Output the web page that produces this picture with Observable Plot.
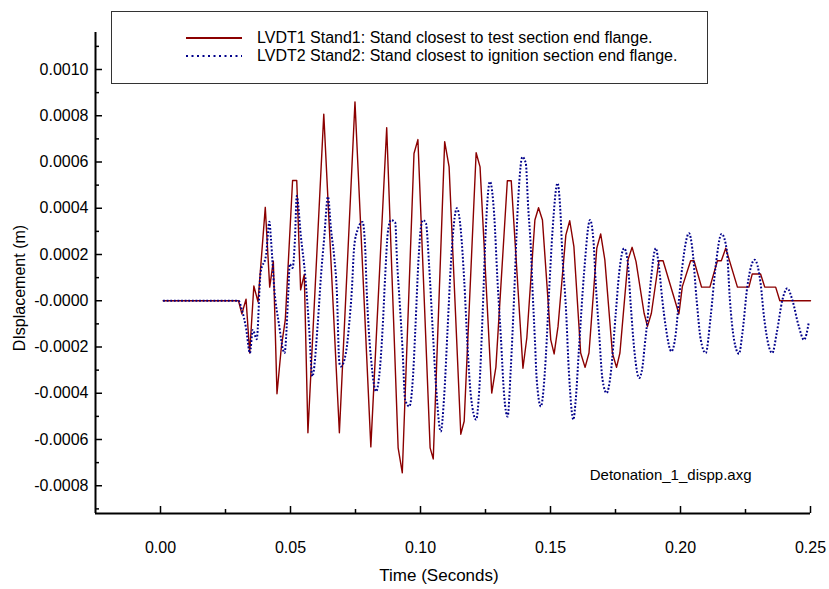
<!DOCTYPE html>
<html><head><meta charset="utf-8">
<script src="https://cdn.jsdelivr.net/npm/d3@7"></script>
<script src="https://cdn.jsdelivr.net/npm/@observablehq/plot@0.6"></script>
<style>
body{margin:0;background:#fff;font-family:"Liberation Sans",Arial,sans-serif;}
#wrap{position:relative;width:829px;height:589px;overflow:hidden;}
#legend{position:absolute;left:111px;top:11px;width:597px;height:73px;border:1px solid #333;background:#fff;box-sizing:border-box;}
.lrow{position:absolute;left:0;height:18px;width:100%;}
.lrow svg{position:absolute;left:74px;top:0;}
.lrow span{position:absolute;left:145px;top:0;font-size:16px;line-height:18px;color:#000;white-space:nowrap;}
</style></head><body><div id="wrap"><div id="legend"></div></div>
<script>
// Series: [time (s), displacement (m)]
const lvdt1 = [[0.001,0],[0.030,0],[0.0313,-0.000057],[0.0329,0.000007],[0.0343,-0.000226],[0.0359,0.000064],[0.0375,-0.000005],[0.0403,0.000404],[0.0420,0.000059],[0.0434,0.000171],[0.0448,-0.000402],[0.0465,-0.000198],[0.0480,-0.000082],[0.0508,0.000520],[0.0524,0.000520],[0.0539,0.000047],[0.0553,0.000114],[0.0567,-0.000571],[0.0628,0.000807],[0.0688,-0.000571],[0.0748,0.000860],[0.0809,-0.000632],[0.0870,0.000748],[0.0914,-0.000636],[0.0930,-0.000744],[0.0975,0.000637],[0.0990,0.000697],[0.1037,-0.000636],[0.1049,-0.000684],[0.1093,0.000688],[0.1110,0.000579],[0.1155,-0.000577],[0.1168,-0.000521],[0.1214,0.000640],[0.1229,0.000579],[0.1274,-0.000399],[0.1290,-0.000287],[0.1334,0.000519],[0.1349,0.000519],[0.1394,-0.000292],[0.1409,-0.000160],[0.1440,0.000349],[0.1454,0.000402],[0.1469,0.000349],[0.1501,-0.000169],[0.1514,-0.000230],[0.1529,-0.000111],[0.1559,0.000284],[0.1574,0.000346],[0.1590,0.000234],[0.1616,-0.000226],[0.1633,-0.000288],[0.1648,-0.000226],[0.1678,0.000227],[0.1693,0.000289],[0.1709,0.000177],[0.1738,-0.000226],[0.1754,-0.000288],[0.1767,-0.000226],[0.1798,0.000177],[0.1814,0.000231],[0.1829,0.000169],[0.1860,-0.000054],[0.1873,-0.000111],[0.1888,-0.000054],[0.1917,0.000173],[0.1933,0.000173],[0.1994,-0.000057],[0.2007,0.000061],[0.2039,0.000173],[0.2052,0.000173],[0.2081,0.000059],[0.2113,0.000059],[0.2142,0.000173],[0.2157,0.000173],[0.2174,0.000227],[0.2219,0.000059],[0.2263,0.000059],[0.2276,0.000116],[0.2308,0.000116],[0.2324,0.000059],[0.2366,0.000059],[0.2382,0],[0.2500,0]];
const lvdt2 = [[0.001,0],[0.030,0],[0.0313,-0.000039],[0.0329,-0.000118],[0.0344,-0.000226],[0.0355,-0.000126],[0.0370,-0.000166],[0.0385,0.000122],[0.0406,0.000198],[0.0419,0.000342],[0.0425,0.000263],[0.0438,0.000047],[0.0455,-0.000097],[0.0477,-0.000226],[0.0492,0.000047],[0.0497,0.000159],[0.0508,0.000142],[0.0517,0.000263],[0.0524,0.000453],[0.0540,0.000277],[0.0557,0.000104],[0.0572,-0.000126],[0.0584,-0.000327],[0.0605,-0.000097],[0.0617,0.000104],[0.0630,0.000277],[0.0644,0.000450],[0.0656,0.000306],[0.0668,0.000191],[0.0678,0.000047],[0.0688,-0.000269],[0.0694,-0.000284],[0.0713,-0.000226],[0.0726,-0.000097],[0.0736,0.000047],[0.0745,0.000234],[0.0758,0.000306],[0.0777,0.000341],[0.0787,0.000234],[0.0793,0.000047],[0.0801,-0.000126],[0.0809,-0.000241],[0.0829,-0.000392],[0.0841,-0.000327],[0.0854,-0.000126],[0.0864,0.000104],[0.0874,0.000292],[0.0886,0.000349],[0.0903,0.000338],[0.0909,0.000191],[0.0921,-0.000025],[0.0931,-0.000212],[0.0941,-0.000428],[0.0957,-0.000457],[0.0972,-0.000312],[0.0980,-0.000126],[0.0993,0.000191],[0.1002,0.000320],[0.1010,0.000349],[0.1021,0.000335],[0.1033,0.000155],[0.1047,-0.000126],[0.1059,-0.000356],[0.1078,-0.000565],[0.1091,-0.000413],[0.1104,-0.000126],[0.1117,0.000162],[0.1140,0.000400],[0.1155,0.000306],[0.1168,0.000090],[0.1181,-0.000198],[0.1194,-0.000413],[0.1214,-0.000514],[0.1226,-0.000385],[0.1239,-0.000054],[0.1251,0.000306],[0.1267,0.000515],[0.1283,0.000378],[0.1296,0.000090],[0.1309,-0.000155],[0.1322,-0.000413],[0.1335,-0.000501],[0.1347,-0.000298],[0.1360,0.000018],[0.1373,0.000378],[0.1392,0.000622],[0.1405,0.000594],[0.1414,0.000407],[0.1424,0.000234],[0.1431,0.000047],[0.1440,-0.000169],[0.1447,-0.000341],[0.1463,-0.000457],[0.1473,-0.000385],[0.1482,-0.000241],[0.1495,0.000047],[0.1508,0.000306],[0.1527,0.000508],[0.1537,0.000407],[0.1546,0.000191],[0.1559,-0.000025],[0.1571,-0.000312],[0.1588,-0.000514],[0.1597,-0.000428],[0.1610,-0.000198],[0.1629,0.000119],[0.1652,0.000349],[0.1665,0.000263],[0.1674,0.000076],[0.1687,-0.000140],[0.1700,-0.000341],[0.1716,-0.000399],[0.1732,-0.000312],[0.1751,-0.000054],[0.1764,0.000119],[0.1783,0.000227],[0.1796,0.000177],[0.1809,-0.000025],[0.1821,-0.000198],[0.1841,-0.000334],[0.1854,-0.000284],[0.1862,-0.000198],[0.1873,-0.000082],[0.1885,0.000076],[0.1905,0.000227],[0.1917,0.000148],[0.1930,0.000004],[0.1943,-0.000111],[0.1965,-0.000219],[0.1982,-0.000140],[0.1994,0.000004],[0.2007,0.000148],[0.2033,0.000292],[0.2046,0.000220],[0.2062,0.000004],[0.2078,-0.000169],[0.2097,-0.000226],[0.2116,-0.000068],[0.2135,0.000148],[0.2158,0.000289],[0.2178,0.000220],[0.2190,0.000004],[0.2206,-0.000169],[0.2225,-0.000229],[0.2238,-0.000140],[0.2257,0.000061],[0.2285,0.000177],[0.2308,0.000076],[0.2321,-0.000068],[0.2353,-0.000226],[0.2370,-0.000140],[0.2392,0.000004],[0.2411,0.000054],[0.2430,0.000004],[0.2455,-0.000111],[0.2475,-0.000169],[0.2494,-0.000090]];

const xTicks = [0, 0.05, 0.10, 0.15, 0.20, 0.25];
const xMinorTicks = [0.025, 0.075, 0.125, 0.175, 0.225];
const yTicks = [-0.0008, -0.0006, -0.0004, -0.0002, 0, 0.0002, 0.0004, 0.0006, 0.0008, 0.0010];
const yMinorTicks = [-0.0009, -0.0007, -0.0005, -0.0003, -0.0001, 0.0001, 0.0003, 0.0005, 0.0007, 0.0009, 0.0011];
const xDomain = [-0.025, 0.25];
const yDomain = [-0.00092, 0.00116];
const seriesNames = ["LVDT1 Stand1: Stand closest to test section end flange.", "LVDT2 Stand2: Stand closest to ignition section end flange."];
const seriesColors = ["#8b0000", "#00008b"];
const xTitle = "Time (Seconds)";
const yTitle = "DIsplacement (m)";
const fileNote = "Detonation_1_dispp.axg";

const W = 829, H = 589, mL = 95, mR = 19, mT = 32, mB = 76;
const plotW = W - mL - mR, plotH = H - mT - mB;
const font = "'Liberation Sans', Arial, sans-serif";
const fmtY = d => d === 0 ? "-0.0000" : d.toFixed(4);

const chart = Plot.plot({
  width: W, height: H,
  marginLeft: mL, marginRight: mR, marginTop: mT, marginBottom: mB,
  style: {fontFamily: font, background: "white", color: "black"},
  x: {domain: xDomain},
  y: {domain: yDomain},
  marks: [
    Plot.axisX(xTicks, {tickSize: 0, tickPadding: 28, tickFormat: d => d.toFixed(2), fontSize: 16, label: null}),
    Plot.axisY(yTicks, {tickSize: 0, tickPadding: 7, tickFormat: fmtY, fontSize: 16, label: null}),
    Plot.tickX(xTicks, {x: d => d, insetTop: plotH - 7, stroke: "black", strokeWidth: 1.5}),
    Plot.tickX(xMinorTicks, {x: d => d, insetTop: plotH - 4, stroke: "black", strokeWidth: 1.5}),
    Plot.tickY(yTicks, {y: d => d, insetRight: plotW - 7, stroke: "black", strokeWidth: 1.5}),
    Plot.tickY(yMinorTicks, {y: d => d, insetRight: plotW - 4, stroke: "black", strokeWidth: 1.5}),
    Plot.line(lvdt1, {x: d => d[0], y: d => d[1], stroke: seriesColors[0], strokeWidth: 1.4}),
    Plot.line(lvdt2, {x: d => d[0], y: d => d[1], stroke: seriesColors[1], strokeWidth: 2, strokeDasharray: "1.8,1.8", strokeLinecap: "butt", curve: "monotone-x"}),
    Plot.ruleX([xDomain[0]], {stroke: "black", strokeWidth: 2}),
    Plot.ruleY([yDomain[0]], {stroke: "black", strokeWidth: 2}),
    Plot.text([xTitle], {text: d => d, frameAnchor: "bottom", dx: -14, dy: 67, fontSize: 17, textAnchor: "middle"}),
    Plot.text([yTitle], {text: d => d, frameAnchor: "left", rotate: -90, dx: -76, dy: 15, fontSize: 16, textAnchor: "middle"}),
    Plot.text([fileNote], {text: d => d, frameAnchor: "bottom-right", dx: -59, dy: -34, fontSize: 15, textAnchor: "end"})
  ]
});
document.getElementById("wrap").prepend(chart);

// Legend box
const legend = d3.select("#legend");
seriesNames.forEach((name, i) => {
  const row = legend.append("div").attr("class", "lrow").style("top", (i === 0 ? 17 : 35) + "px");
  const s = row.append("svg").attr("width", 58).attr("height", 18);
  s.append("line").attr("x1", 0).attr("x2", 56).attr("y1", 9).attr("y2", 9)
    .attr("stroke", seriesColors[i]).attr("stroke-width", 2)
    .attr("stroke-dasharray", i === 0 ? null : "2,3.5");
  row.append("span").text(name);
});
</script>
</body></html>
